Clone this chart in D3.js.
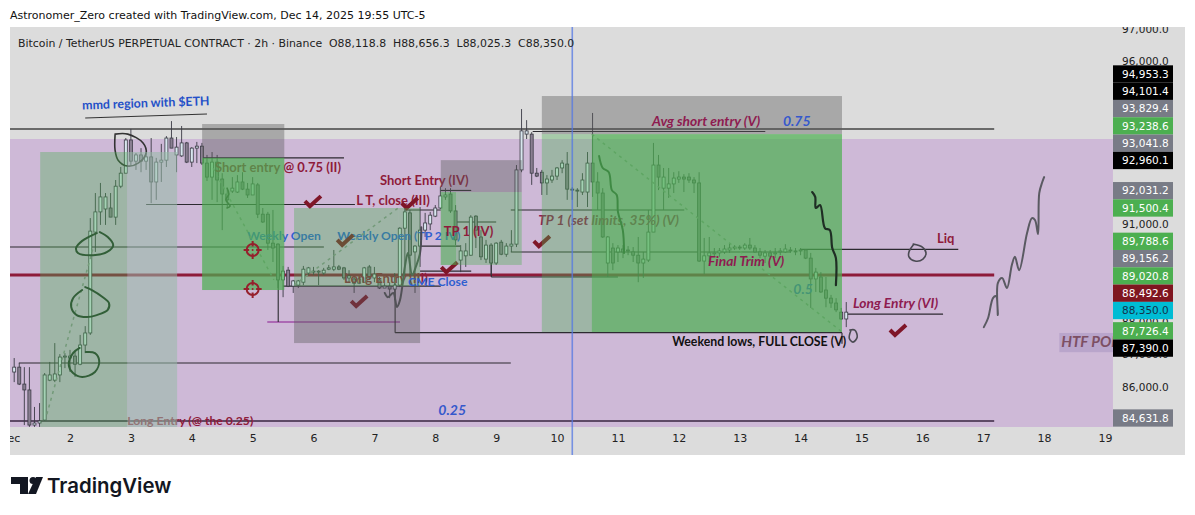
<!DOCTYPE html>
<html>
<head>
<meta charset="utf-8">
<style>
  html, body { margin: 0; background: #fff; }
  text { font-family: "DejaVu Sans", sans-serif; white-space: pre; }
  .mark { font-family: "Lato", sans-serif; font-weight: 700; font-size: 13px; }
</style>
</head>
<body>
<div id="chart"></div>
<script src="https://cdn.jsdelivr.net/npm/d3@7"></script>
<script>
// 2h candles, first one is Dec 1 02:00
const opens = [
  86460,86610,86090,85870,84320,84410,84540,86210,86210,86370,86920,86890,86950,86700,87290,87660,
  90760,91380,91470,91500,91220,92170,92570,93590,92940,93130,92940,93070,92300,92910,92970,93650,
  93130,93100,93500,92910,93340,93400,92880,92450,92910,92390,91930,92020,91990,92300,92080,91900,
  92210,91310,91310,90420,90390,89290,89590,89100,89130,89220,89500,89530,89530,89500,89620,89620,
  89690,89660,89350,89320,89190,89220,89690,89350,89290,89040,89100,89010,89130,90880,91350,90150,
  90330,90820,91010,91250,91500,91840,91930,91410,89900,90030,90050,91250,90610,89930,90360,89810,
  90450,90080,90330,90390,92670,93770,93770,92570,92600,92270,92360,92480,92730,92850,92080,92050,
  91990,91990,92880,92300,91960,89810,90270,90150,90240,90210,90150,90050,89810,89900,90760,92820,
  92110,92110,92240,92390,92450,92450,92360,92270,89870,90030,90090,90120,90150,90210,90270,90300,
  90270,90360,90270,90150,90020,90120,90090,90150,90150,90210,90180,90180,90210,89960,89320,89380,
  88980,88730,88580,88300,88090];
const highs = [
  86890,86740,86610,86610,85120,85290,86430,86770,87350,87010,87040,87140,87070,87600,87870,91190,
  91960,92270,91960,91960,92360,92760,93650,93930,93190,93340,93190,93650,93040,93470,93710,94170,
  93680,94020,93530,93370,93530,93500,93130,93220,93130,92570,92110,92450,92510,92600,92270,92450,
  92270,91500,91380,91440,90420,89720,89690,89290,89290,89720,89690,89690,89590,89660,89750,90210,
  89750,89690,89590,89410,89380,89690,89750,89690,89380,89190,89220,89500,90910,91500,91440,90360,
  91530,91350,91380,91590,92150,92110,92110,91590,90360,90420,91280,91280,90820,90520,90420,90450,
  90520,90420,90820,92820,94540,94200,93830,92730,92670,92510,92670,92760,92970,93220,92140,92110,
  92570,93220,94420,92600,92110,90640,90420,90360,90360,90330,90300,90610,90150,91440,93500,93130,
  92730,92730,92600,92630,92540,92570,92450,92600,90580,90610,90270,90270,90360,90420,90360,90360,
  90420,90580,90360,90270,90210,90210,90270,90270,90390,90300,90270,90270,90240,90120,89660,89530,
  89380,88830,88730,88430,88610];
const lows = [
  86150,86060,84320,84240,84240,84240,84500,86180,86150,86150,86580,86460,86310,86670,87040,87600,
  90150,90980,90980,91220,90980,92110,92570,92820,92670,92600,92670,91650,91750,92300,92760,93340,
  92600,93070,92880,92760,92880,92820,92330,91750,91680,90820,91500,91960,91960,92050,91810,91900,
  91190,91040,90210,89840,89040,88760,89070,88890,89040,89130,89440,89440,89130,89440,89590,89560,
  89590,89290,89220,88890,89160,89220,89290,89220,89010,89040,88730,88670,89070,89440,89380,88890,
  89690,90610,90820,91220,91470,91750,91350,90360,89530,89690,90030,90270,89900,89810,89440,89750,
  90050,90000,90150,90300,92600,93620,92210,92450,91900,91900,92270,92360,92570,91750,91750,91530,
  91900,91530,91840,91440,90580,89380,89590,89840,89960,90050,89840,89220,89350,89840,90760,92050,
  91440,91810,91960,92270,91990,92270,91960,89840,89470,89840,90000,90000,90090,90120,90210,90210,
  90210,90210,90120,89960,89810,89900,89960,90050,90120,90120,90050,90050,89930,88430,88920,88890,
  88450,88430,88300,88060,87840];
const closes = [
  86610,86090,85870,84320,84410,84500,86370,86370,86400,86920,86950,86950,86700,87290,87660,90790,
  91380,91840,91840,91220,92170,92570,93590,92940,93130,92940,93070,92300,92910,92970,93650,93340,
  93370,93500,92910,93340,93400,92880,92450,92910,92360,91930,91750,92110,92300,92080,91900,92240,
  91310,91070,90420,90270,89290,89560,89100,89260,89260,89620,89660,89560,89560,89590,89660,89690,
  89620,89350,89410,89190,89320,89660,89350,89470,89040,89100,89010,89130,90880,91380,90050,90330,
  90820,91040,91280,91500,91870,91900,91410,90520,90180,90180,91220,90820,90000,90360,89810,90420,
  90080,90330,90390,92670,93870,93870,92570,92480,92270,92390,92480,92730,92880,92080,92050,92020,
  92360,92880,92300,91960,90610,90610,89810,90270,90150,90180,90050,89810,89930,90760,92820,92450,
  92450,92240,92420,92450,92390,92360,92270,89870,90030,90120,90120,90180,90240,90270,90300,90270,
  90360,90270,90150,90050,90120,90020,90120,90180,90240,90180,90150,90210,89960,89320,89530,88920,
  88730,88580,88370,88090,88300];

const dayTicks = d3.range(1, 20);
// the other round prices sit fully behind the tags
const priceTicks = [86000, 87000, 88000, 91000, 96000, 97000];

// price scale tags, top to bottom
const tagValues = [94953.3, 94101.4, 93829.4, 93238.6, 93041.8, 92960.1, 92031.2, 91500.4, 89788.6, 89156.2, 89020.8, 88492.6, 88350.0, 87726.4, 87390.0, 84631.8];
const tagKinds = ['black','black','grey','green','grey','black','grey','green','green','grey','green','red','last','green','black','grey'];

// levels: [fromDay, toDay, price]
const thinLevels = [
  [1.01, 6.17, 90300], [1.16, 9.24, 86736], [3.25, 6.68, 91607], [5.50, 8.09, 89100],
  [7.34, 14.68, 87670], [8.92, 11.00, 89380], [9.24, 13.83, 90150], [13.99, 16.59, 90230],
  [9.24, 12.09, 91438], [8.34, 9.00, 91070], [8.09, 8.59, 92040], [7.75, 8.59, 89560],
  [7.75, 8.41, 90330], [7.50, 8.09, 91438], [9.60, 13.42, 93850], [14.76, 16.34, 88240],
  [4.17, 6.50, 93040]];
const mainLevel = [1.01, 17.18, 89440];
const upperLevel = [1.01, 17.18, 93927];
const lowerLevel = [1.01, 17.18, 84500];
const purpleLevel = [5.24, 7.42, 87996];
// stems: [day, fromPrice, toPrice]
const stems = [[5.42, 90300, 87996], [7.34, 89190, 87670], [8.92, 89810, 89380], [14.68, 87670, 87330]];
const cursorDay = 10.25;
const mmdUnderline = [[2.25, 94265], [4.25, 94388]];

// position boxes: [fromDay, toDay, topPrice, bottomPrice]
const purpleZone = [1.01, 19.13, 93620, 84236];
const poiBox = [18.25, 19.13, 87660, 87070];
const stopBoxes = [
  [4.17, 5.52, 94080, 93040], [5.68, 7.75, 89100, 87350],
  [8.09, 9.42, 92970, 91990], [9.75, 14.68, 94940, 93770]];
const solidGreen = [[4.17, 5.52, 93040, 88980], [10.57, 14.68, 93770, 87690]];
const softGreen = [
  [1.51, 2.94, 93220, 84236], [5.68, 7.39, 91500, 89100], [7.39, 7.75, 91500, 89100],
  [8.09, 9.42, 91990, 89750], [8.09, 8.34, 91990, 89750], [9.75, 10.57, 93770, 87690]];
const paleBoxes = [[2.94, 3.76, 93220, 84236]];

// dotted targets of the position tools: [[day, price], [day, price]]
const dottedPaths = [
  [[1.62, 84800], [2.38, 90270]], [[4.35, 92720], [5.35, 89290]],
  [[5.68, 89130], [7.39, 91500]], [[10.57, 93770], [14.68, 87690]]];

// hand drawn strokes, [day, price]
const ringTop = [[2.49,90760],[2.62,90610],[2.71,90360],[2.61,90150],[2.38,90050],[2.13,90120],[2.10,90270],[2.20,90490],[2.44,90730]];
const ringMid = [[2.25,89070],[2.36,88980],[2.54,88760],[2.64,88580],[2.62,88370],[2.44,88210],[2.28,88150],[2.11,88210],[2.02,88460],[2.05,88730],[2.20,88980]];
const ringLow = [[2.26,87074],[2.41,87043],[2.48,86800],[2.41,86460],[2.20,86310],[2.05,86430],[1.98,86680],[2.05,87040],[2.16,87200]];
const ringHigh = [[2.74,93770],[2.95,93770],[3.20,93500],[3.25,93190],[3.12,92880],[2.94,92790],[2.79,92970],[2.74,93280],[2.74,93740]];
const squiggle = [[4.58,92110],[4.61,91930],[4.56,91750],[4.63,91560],[4.58,91500]];
const dipCurve = [[7.17,88890],[7.22,88760],[7.31,88890],[7.37,88460],[7.42,88670],[7.50,89690],[7.55,90120],[7.62,89440],[7.68,89690],[7.75,90120],[7.77,90910]];
const fallLeft = [[10.69,93100],[10.75,92730],[10.85,92600],[10.90,92050],[10.98,91900],[11.00,91380],[11.08,90820],[11.10,90120]];
const fallRight = [[14.19,91990],[14.24,91840],[14.25,91500],[14.32,91590],[14.40,90880],[14.48,90820],[14.52,90270],[14.58,89960],[14.58,89130]];
const liqRing = [[15.85,90390],[16.00,90300],[16.06,90120],[16.01,89930],[15.88,89870],[15.78,90000],[15.78,90150],[15.85,90360]];
const endLoop = [[14.81,87750],[14.89,87750],[14.93,87530],[14.86,87380],[14.80,87500],[14.83,87750]];
const projection = [[17.01,87840],[17.08,88120],[17.16,88730],[17.21,88790],[17.24,88210],[17.24,89190],[17.31,89350],[17.39,89040],[17.47,89750],[17.52,90000],[17.59,89590],[17.72,90730],[17.80,91190],[17.85,91130],[17.90,90700],[17.92,91960],[17.97,92300],[18.00,92450]];

// text notes: [text, day, price, kind]
const underNotes = [
  ['Short entry @ 0.75 (II)', 4.38, 92760, 'red'],
  ['Short Entry (IV)', 7.09, 92360, 'red'],
  ['L T, close (III)', 6.70, 91745, 'red'],
  ['Weekly Open', 4.91, 90640, 'blue'],
  ['Weekly Open (TP 2 IV)', 6.39, 90640, 'blue'],
  ['Long Entry (III)', 6.50, 89350, 'red'],
  ['TP 1 (set limits, 35%) (V)', 9.69, 91130, 'plum'],
  ['0.5', 13.88, 89010, 'fib'],
  ['Long Entry (@ the 0.25)', 2.94, 84500, 'redSmall'],
  ['0.25', 8.05, 84986, 'fib']];
const topNotes = [
  ['TP 1 (IV)', 8.14, 90790, 'red'],
  ['CME Close', 7.55, 89230, 'blue'],
  ['Final Trim (V)', 12.48, 89870, 'plum'],
  ['Avg short entry (V)', 11.56, 94170, 'plum'],
  ['0.75', 13.71, 94170, 'fib'],
  ['Weekend lows, FULL CLOSE (V)', 11.89, 87380, 'black'],
  ['Long Entry (VI)', 14.86, 88580, 'plum'],
  ['Liq', 16.24, 90550, 'red'],
  ['HTF POI', 18.28, 87380, 'poi']];
const checks = [[5.99, 91680], [6.52, 90490], [6.75, 88610], [7.58, 91620], [8.23, 89650], [9.75, 90450], [15.60, 87720]];
const targets = [[5.0, 90210], [5.0, 89010]];

const [svgWidth, svgHeight] = [1195, 515];
const plot = { left: 10, right: 1113, top: 27, bottom: 427, panelRight: 1185, panelBottom: 455 };

const x = d3.scaleLinear().domain([2, 19]).range([70, 1105]);
const y = d3.scaleLinear().domain([84631.8, 86000, 97000]).range([418, 387, 29]);

let svg = d3.select('#chart').append('svg')
    .attr('width', svgWidth)
    .attr('height', svgHeight)
    .style('display', 'block');

svg.append('text').attr('x', 10).attr('y', 19)
    .attr('font-size', 11).attr('fill', '#111')
    .text('Astronomer_Zero created with TradingView.com, Dec 14, 2025 19:55 UTC-5');

svg.append('rect')
    .attr('x', plot.left).attr('y', plot.top)
    .attr('width', plot.panelRight - plot.left).attr('height', plot.panelBottom - plot.top)
    .attr('fill', '#dcdcdc');

let defs = svg.append('defs');
defs.append('clipPath').attr('id', 'plotClip').append('rect')
    .attr('x', plot.left).attr('y', plot.top)
    .attr('width', plot.right - plot.left).attr('height', plot.bottom - plot.top);
defs.append('clipPath').attr('id', 'panelClip').append('rect')
    .attr('x', plot.left).attr('y', plot.top)
    .attr('width', plot.panelRight - plot.left).attr('height', plot.panelBottom - plot.top);

let chart = svg.append('g').attr('clip-path', 'url(#plotClip)');

function drawBoxes(parent, boxes, fill) {
    parent.selectAll(null).data(boxes).enter().append('rect')
        .attr('x', d => x(d[0]))
        .attr('y', d => y(d[2]))
        .attr('width', d => x(d[1]) - x(d[0]))
        .attr('height', d => y(d[3]) - y(d[2]))
        .attr('fill', fill);
}

function drawLevels(parent, levels, color, width) {
    parent.selectAll(null).data(levels).enter().append('line')
        .attr('x1', d => x(d[0])).attr('x2', d => x(d[1]))
        .attr('y1', d => y(d[2])).attr('y2', d => y(d[2]))
        .attr('stroke', color).attr('stroke-width', width);
}

const stroke = d3.line().x(d => x(d[0])).y(d => y(d[1])).curve(d3.curveCatmullRom);

function drawStroke(parent, points, color, width) {
    parent.append('path').datum(points)
        .attr('d', stroke)
        .attr('fill', 'none')
        .attr('stroke', color).attr('stroke-width', width)
        .attr('stroke-linecap', 'round');
}

const noteStyles = {
    red: { fill: '#8e1b3a', style: 'normal', size: 13 },
    redSmall: { fill: '#8e1b3a', style: 'normal', size: 12.2 },
    blue: { fill: '#2f5fd0', style: 'normal', size: 12.2 },
    plum: { fill: '#8e1b50', style: 'italic', size: 13.8 },
    fib: { fill: '#3558cc', style: 'italic', size: 14 },
    black: { fill: '#111', style: 'normal', size: 12.3 },
    poi: { fill: '#7d4f63', style: 'italic', size: 15 }
};

function drawNotes(parent, notes) {
    parent.selectAll(null).data(notes).enter().append('text')
        .attr('class', 'mark')
        .attr('x', d => x(d[1]))
        .attr('y', d => y(d[2]))
        .attr('dy', '0.35em')
        .attr('fill', d => noteStyles[d[3]].fill)
        .attr('font-style', d => noteStyles[d[3]].style)
        .style('font-size', d => noteStyles[d[3]].size + 'px')
        .text(d => d[0]);
}

function drawChecks(parent, points) {
    parent.selectAll(null).data(points).enter().append('path')
        .attr('transform', d => 'translate(' + x(d[0]) + ',' + y(d[1]) + ')')
        .attr('d', 'M-8,-1 L-3,4 L8,-6')
        .attr('fill', 'none')
        .attr('stroke', '#7f1628').attr('stroke-width', 4);
}

// purple HTF zone goes first, everything sits on it
drawBoxes(chart, [purpleZone], '#ceb9d7');

// levels
drawLevels(chart, [mainLevel], '#8e1b3a', 3);
drawLevels(chart, [upperLevel], '#6a6a6a', 2);
drawLevels(chart, [lowerLevel], '#5e4a66', 2);
drawLevels(chart, thinLevels, '#2c2a30', 1.1);
drawLevels(chart, [purpleLevel], '#a04fa8', 1.5);
chart.selectAll(null).data(stems).enter().append('line')
    .attr('x1', d => x(d[0])).attr('x2', d => x(d[0]))
    .attr('y1', d => y(d[1])).attr('y2', d => y(d[2]))
    .attr('stroke', '#2c2a30').attr('stroke-width', 1.1);

// candles
const candleDay = i => 1 + (2 + 2 * i) / 24;
let candles = chart.append('g').selectAll('g').data(d3.range(opens.length)).enter().append('g');
candles.append('line')
    .attr('x1', i => x(candleDay(i))).attr('x2', i => x(candleDay(i)))
    .attr('y1', i => y(highs[i])).attr('y2', i => y(lows[i]))
    .attr('stroke', '#3a3a44').attr('stroke-width', 0.9);
candles.append('rect')
    .attr('x', i => x(candleDay(i)) - 1.5)
    .attr('width', 3)
    .attr('y', i => y(Math.max(opens[i], closes[i])))
    .attr('height', i => Math.max(1, Math.abs(y(opens[i]) - y(closes[i]))))
    .attr('fill', i => closes[i] >= opens[i] ? '#d8e6ee' : '#8a7f92')
    .attr('stroke', '#3a3a44').attr('stroke-width', 0.8);

drawNotes(chart, underNotes);
drawChecks(chart, checks);

chart.selectAll(null).data(dottedPaths).enter().append('path')
    .attr('d', d3.line().x(d => x(d[0])).y(d => y(d[1])))
    .attr('fill', 'none').attr('stroke', '#8a8f90').attr('stroke-width', 1.5)
    .attr('stroke-dasharray', '3 4');

drawStroke(chart, ringTop, '#24332b', 2);
drawStroke(chart, ringMid, '#24332b', 2);
drawStroke(chart, ringLow, '#24332b', 2);
drawStroke(chart, ringHigh, '#333', 1.6);
drawStroke(chart, squiggle, '#333', 1.5);
drawStroke(chart, dipCurve, '#4d4d55', 2);
drawStroke(chart, fallLeft, '#24332b', 2);

// position boxes are drawn over the candles, that is why the candles look tinted
drawBoxes(chart, stopBoxes, 'rgba(90,90,90,0.4)');
drawBoxes(chart, solidGreen, 'rgba(76,175,80,0.7)');
drawBoxes(chart, softGreen, 'rgba(76,175,80,0.36)');
drawBoxes(chart, paleBoxes, 'rgba(150,188,165,0.55)');
drawBoxes(chart, [poiBox], '#b9a5cb');

drawNotes(chart, topNotes);

chart.append('path').datum(mmdUnderline)
    .attr('d', d3.line().x(d => x(d[0])).y(d => y(d[1])))
    .attr('stroke', '#333').attr('stroke-width', 1.2);
chart.append('text').attr('class', 'mark')
    .attr('transform', 'translate(' + x(2.20) + ',' + y(94660) + ') rotate(-2)')
    .attr('dy', '0.35em').attr('fill', '#2450c8')
    .style('font-size', '12.4px')
    .text('mmd region with $ETH');

drawStroke(chart, fallRight, '#1f2e24', 2.2);
drawStroke(chart, liqRing, '#4a4a52', 1.6);
drawStroke(chart, endLoop, '#4a4a52', 1.6);
drawStroke(chart, projection, '#5a5a62', 2);

// red targets
let target = chart.selectAll(null).data(targets).enter().append('g')
    .attr('transform', d => 'translate(' + x(d[0]) + ',' + y(d[1]) + ')')
    .attr('stroke', '#96202c').attr('fill', 'none');
target.append('circle').attr('r', 6).attr('stroke-width', 2);
target.append('path').attr('d', 'M-9,0H-3.5M3.5,0H9M0,-9V-3.5M0,3.5V9').attr('stroke-width', 2);
target.append('circle').attr('r', 1).attr('fill', '#96202c').attr('stroke', 'none');

// cursor crosses the plot and the date strip
svg.append('line')
    .attr('x1', x(cursorDay)).attr('x2', x(cursorDay))
    .attr('y1', plot.top).attr('y2', plot.panelBottom)
    .attr('stroke', '#5478e4').attr('stroke-width', 1.6).attr('opacity', 0.75);

// axes
let axes = svg.append('g').attr('clip-path', 'url(#panelClip)');
let xAxis = axes.append('g')
    .attr('transform', 'translate(0,' + plot.bottom + ')')
    .call(d3.axisBottom(x).tickValues(dayTicks).tickSize(0).tickPadding(7)
        .tickFormat(d => d === 1 ? 'Dec' : d));
xAxis.select('.domain').remove();
xAxis.selectAll('text').attr('font-size', 11).attr('fill', '#222').style('font-family', '"DejaVu Sans", sans-serif');

let yAxis = axes.append('g')
    .attr('transform', 'translate(' + plot.right + ',0)')
    .call(d3.axisRight(y).tickValues(priceTicks).tickSize(0).tickPadding(9)
        .tickFormat(d3.format(',.1f')));
yAxis.select('.domain').remove();
yAxis.selectAll('text').attr('font-size', 10.5).attr('fill', '#222').style('font-family', '"DejaVu Sans", sans-serif');

// tags get pushed away from the last price tag when they would overlap
const tagHeight = 17.3;
const tagColors = { black: '#000', grey: '#787b86', green: '#4caf50', red: '#7f1620', last: '#00bcd4' };
let tagY = tagValues.map(v => y(v));
const lastTag = tagKinds.indexOf('last');
for (let i = lastTag - 1; i >= 0; i--) tagY[i] = Math.min(tagY[i], tagY[i + 1] - tagHeight);
for (let i = lastTag + 1; i < tagY.length; i++) tagY[i] = Math.max(tagY[i], tagY[i - 1] + tagHeight);

let tags = svg.append('g').selectAll('g').data(tagValues).enter().append('g')
    .attr('transform', (d, i) => 'translate(' + plot.right + ',' + tagY[i] + ')');
tags.append('rect')
    .attr('y', -tagHeight / 2).attr('width', 60).attr('height', tagHeight)
    .attr('fill', (d, i) => tagColors[tagKinds[i]]);
tags.append('text')
    .attr('x', 9).attr('dy', '0.35em')
    .attr('font-size', 10.5)
    .attr('fill', (d, i) => tagKinds[i] === 'last' ? '#14324a' : '#fff')
    .text(d => d3.format(',.1f')(d));

// legend line
svg.append('text').attr('x', 18).attr('y', 47)
    .attr('font-size', 10.9).attr('fill', '#222')
    .text('Bitcoin / TetherUS PERPETUAL CONTRACT · 2h · Binance  O88,118.8  H88,656.3  L88,025.3  C88,350.0');

// TradingView mark
let logo = svg.append('g').attr('fill', '#131722');
logo.append('path').attr('d', 'M11,477H28V494H20V484H11Z');
logo.append('circle').attr('cx', 33).attr('cy', 480.5).attr('r', 3.5);
logo.append('path').attr('d', 'M36,477H43L36,494H28Z');
svg.append('text').attr('x', 47).attr('y', 493)
    .style('font-family', 'Inter, sans-serif').attr('font-size', 20.4).attr('font-weight', 600)
    .attr('fill', '#131722').text('TradingView');
</script>
</body>
</html>
